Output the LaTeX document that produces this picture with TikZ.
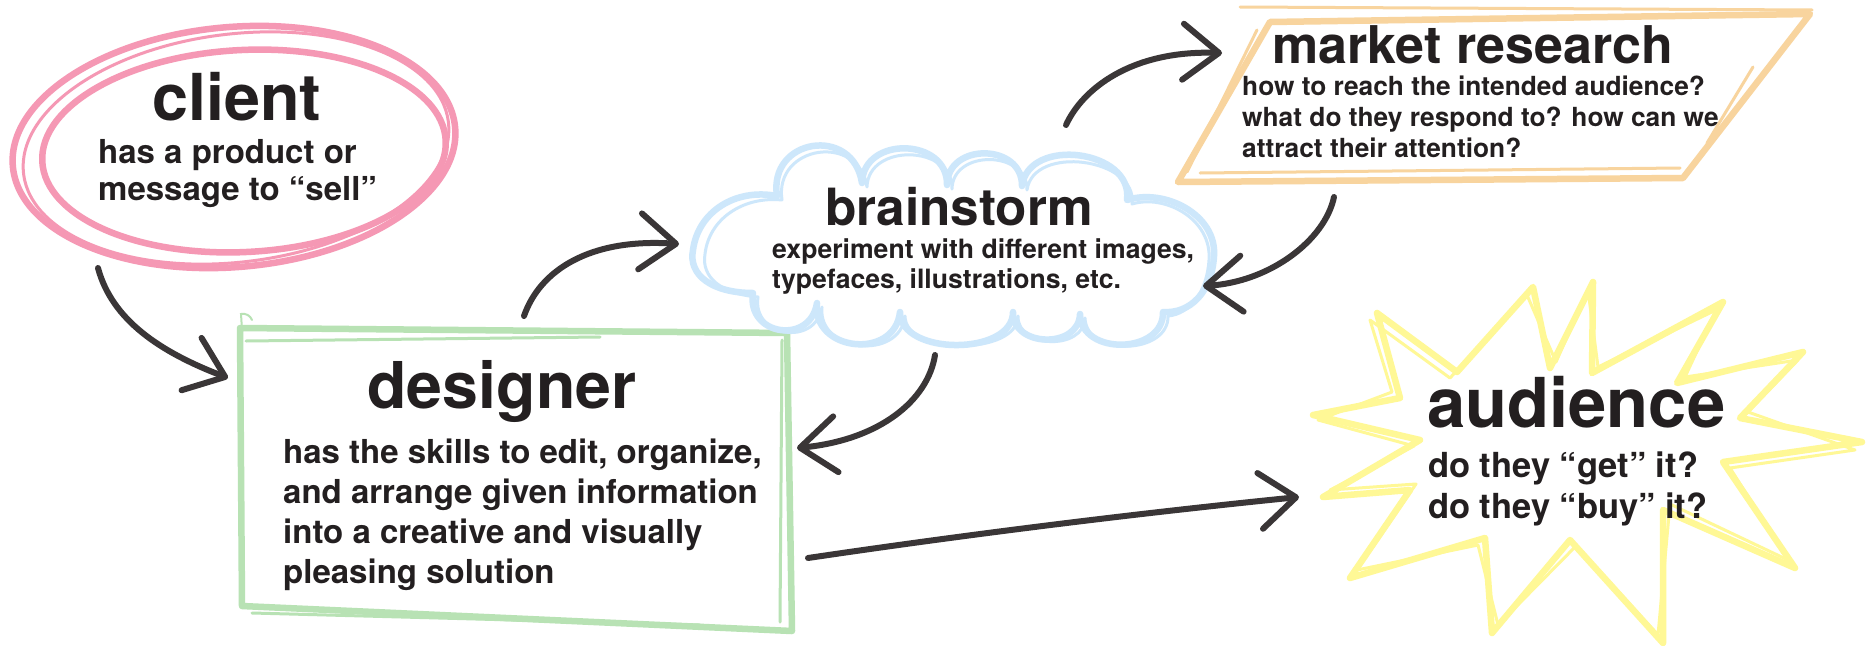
\documentclass[tikz,border=0pt]{standalone}
\usepackage{fontspec}
\setmainfont{TeX Gyre Heros}
\usetikzlibrary{arrows.meta}
\definecolor{ink}{HTML}{231F20}
\definecolor{arrowc}{HTML}{3A3637}
\definecolor{pinkc}{HTML}{F598B4}
\definecolor{greenc}{HTML}{B8E2B4}
\definecolor{bluec}{HTML}{CDE7FB}
\definecolor{orangec}{HTML}{F8D49E}
\definecolor{yellowc}{HTML}{FFF896}
\begin{document}
\begin{tikzpicture}[x=1pt,y=-1pt,
  ttl/.style={inner sep=0pt,text=ink,font=\bfseries\fontsize{#1}{#1}\selectfont},
  bdy/.style 2 args={inner sep=0pt,text=ink,font=\bfseries\fontsize{#1}{#2}\selectfont},
  sketch/.style={draw=#1,line width=6.5pt,line cap=round,line join=round},
  sketchthin/.style={draw=#1,line width=3pt,line cap=round,line join=round},
  arr/.style={draw=arrowc,line width=6pt,line cap=round,-{Straight Barb[length=36pt,width=56pt,round]}}]
\useasboundingbox (0,0) rectangle (1868,645);
\fill[white] (0,0) rectangle (1868,645);

% client ellipse
\draw[sketch=pinkc] (234,147) ellipse [x radius=222, y radius=120, rotate=5];
\draw[sketch=pinkc] (244,151) ellipse [x radius=202, y radius=101, rotate=3];
\draw[sketchthin=pinkc] (236,148) ellipse [x radius=214, y radius=114, rotate=7];

% designer box
\draw[sketch=greenc] (240,328) -- (787,333) -- (792,631) -- (242,606) -- cycle;
\draw[sketchthin=greenc] (246,341) -- (600,337);
\draw[sketchthin=greenc] (782,340) -- (780,622);
\draw[sketchthin=greenc] (252,613) -- (700,625);
\draw[greenc,line width=2pt,line cap=round] (242,330) -- (241,314) to[bend left=40] (252,320);

% brainstorm cloud
\draw[sketch=bluec] (777,196)
  to[bend left=90,looseness=1.75] (862,183)
  to[bend left=90,looseness=1.43] (947,185)
  to[bend left=90,looseness=1.46] (1022,186)
  to[bend left=90,looseness=1.22] (1127,200)
  .. controls (1165,188) and (1217,215) .. (1214,256)
  .. controls (1212,292) and (1190,314) .. (1163,312)
  to[bend left=90,looseness=1.3] (1080,314)
  to[bend left=90,looseness=1.35] (1013,312)
  to[bend left=90,looseness=1.0] (900,312)
  to[bend left=90,looseness=1.5] (817,303)
  to[bend left=90,looseness=1.7] (753,293)
  .. controls (712,293) and (688,275) .. (693,250)
  .. controls (698,212) and (735,188) .. (777,196);
\draw[sketchthin=bluec,shift={(5,4)}] (777,196)
  to[bend left=90,looseness=1.65] (862,183)
  to[bend left=90,looseness=1.33] (947,185)
  to[bend left=90,looseness=1.36] (1022,186)
  to[bend left=90,looseness=1.12] (1127,200)
  .. controls (1160,190) and (1207,215) .. (1204,256)
  .. controls (1202,288) and (1185,310) .. (1163,312)
  to[bend left=90,looseness=1.2] (1080,314)
  to[bend left=90,looseness=1.25] (1013,312)
  to[bend left=90,looseness=0.9] (900,312)
  to[bend left=90,looseness=1.4] (817,303)
  to[bend left=90,looseness=1.6] (753,293)
  .. controls (716,290) and (696,273) .. (700,250)
  .. controls (704,215) and (738,192) .. (777,196);

% market research parallelogram
\draw[sketch=orangec] (1270,22) -- (1810,14) -- (1683,178) -- (1178,182) -- cycle;
\draw[sketchthin=orangec] (1240,7) -- (1812,10);
\draw[sketchthin=orangec] (1753,67) -- (1707,143);
\draw[sketchthin=orangec] (1187,172) -- (1257,30);
\draw[sketchthin=orangec] (1200,173) -- (1680,168);

% audience starburst
\draw[sketch=yellowc] (1313,415) -- (1400,398) -- (1377,313) -- (1457,372) -- (1533,287)
  -- (1550,368) -- (1593,282) -- (1592,373) -- (1723,302) -- (1677,383) -- (1803,352)
  -- (1740,418) -- (1862,442) -- (1723,462) -- (1795,568) -- (1663,510) -- (1663,643)
  -- (1570,540) -- (1492,633) -- (1485,538) -- (1350,578) -- (1410,490) -- (1323,497)
  -- (1420,440) -- cycle;
\draw[sketchthin=yellowc] (1318,420) -- (1392,392) -- (1370,320) -- (1450,378) -- (1527,295)
  -- (1556,362) -- (1588,290) -- (1598,367) -- (1716,310) -- (1685,377) -- (1798,360)
  -- (1748,412) -- (1855,450) -- (1730,468) -- (1788,560) -- (1670,504) -- (1658,635)
  -- (1576,546) -- (1498,625) -- (1478,545) -- (1357,570) -- (1416,484) -- (1330,490)
  -- (1414,446) -- cycle;

% texts
\node[ttl=64.7,anchor=base] (clientT) at (237,120) {client};
\node[bdy={33}{37},anchor=base west] (clientB) at (98,163)
  {\begin{tabular}[t]{@{}l@{}}has a product or\\message to “sell”\end{tabular}};

\node[ttl=64.5,anchor=base] (designerT) at (502,408) {designer};
\node[bdy={33}{40},anchor=base west] (designerB) at (283,463)
  {\begin{tabular}[t]{@{}l@{}}has the skills to edit, organize,\\and arrange given information\\into a creative and visually\\pleasing solution\end{tabular}};

\node[ttl=51.3,anchor=base] (brainT) at (959,225) {brainstorm};
\node[bdy={26.6}{30},anchor=base west] (brainB) at (772,258)
  {\begin{tabular}[t]{@{}l@{}}experiment with different images,\\typefaces, illustrations, etc.\end{tabular}};

\node[ttl=52,anchor=base west] (marketT) at (1272,63) {market research};
\node[bdy={26.3}{31},anchor=base west] (marketB) at (1242,95)
  {\begin{tabular}[t]{@{}l@{}}how to reach the intended audience?\\what do they respond to? how can we\\attract their attention?\end{tabular}};

\node[ttl=68.8,anchor=base west] (audT) at (1427,427) {audience};
\node[bdy={34.5}{41},anchor=base west] (audB) at (1428,477)
  {\begin{tabular}[t]{@{}l@{}}do they “get” it?\\do they “buy” it?\end{tabular}};

% connector end points
\coordinate (a1s) at (98,268);   \coordinate (a1e) at (228,378);
\coordinate (a2s) at (524,316);  \coordinate (a2e) at (679,244);
\coordinate (a3s) at (1066,125); \coordinate (a3e) at (1222,53);
\coordinate (a4s) at (1334,197); \coordinate (a4e) at (1203,286);
\coordinate (a5s) at (935,355);  \coordinate (a5e) at (797,448);
\coordinate (a6s) at (808,558);  \coordinate (a6e) at (1299,497);

\draw[arr] (a1s) .. controls (112,320) and (160,352) .. (a1e);
\draw[arr] (a2s) .. controls (540,270) and (590,238) .. (a2e);
\draw[arr] (a3s) .. controls (1082,90) and (1130,50) .. (a3e);
\draw[arr] (a4s) .. controls (1325,240) and (1270,282) .. (a4e);
\draw[arr] (a5s) .. controls (928,400) and (880,440) .. (a5e);
\draw[arr] (a6s) .. controls (970,534) and (1140,513) .. (a6e);
\end{tikzpicture}
\end{document}
